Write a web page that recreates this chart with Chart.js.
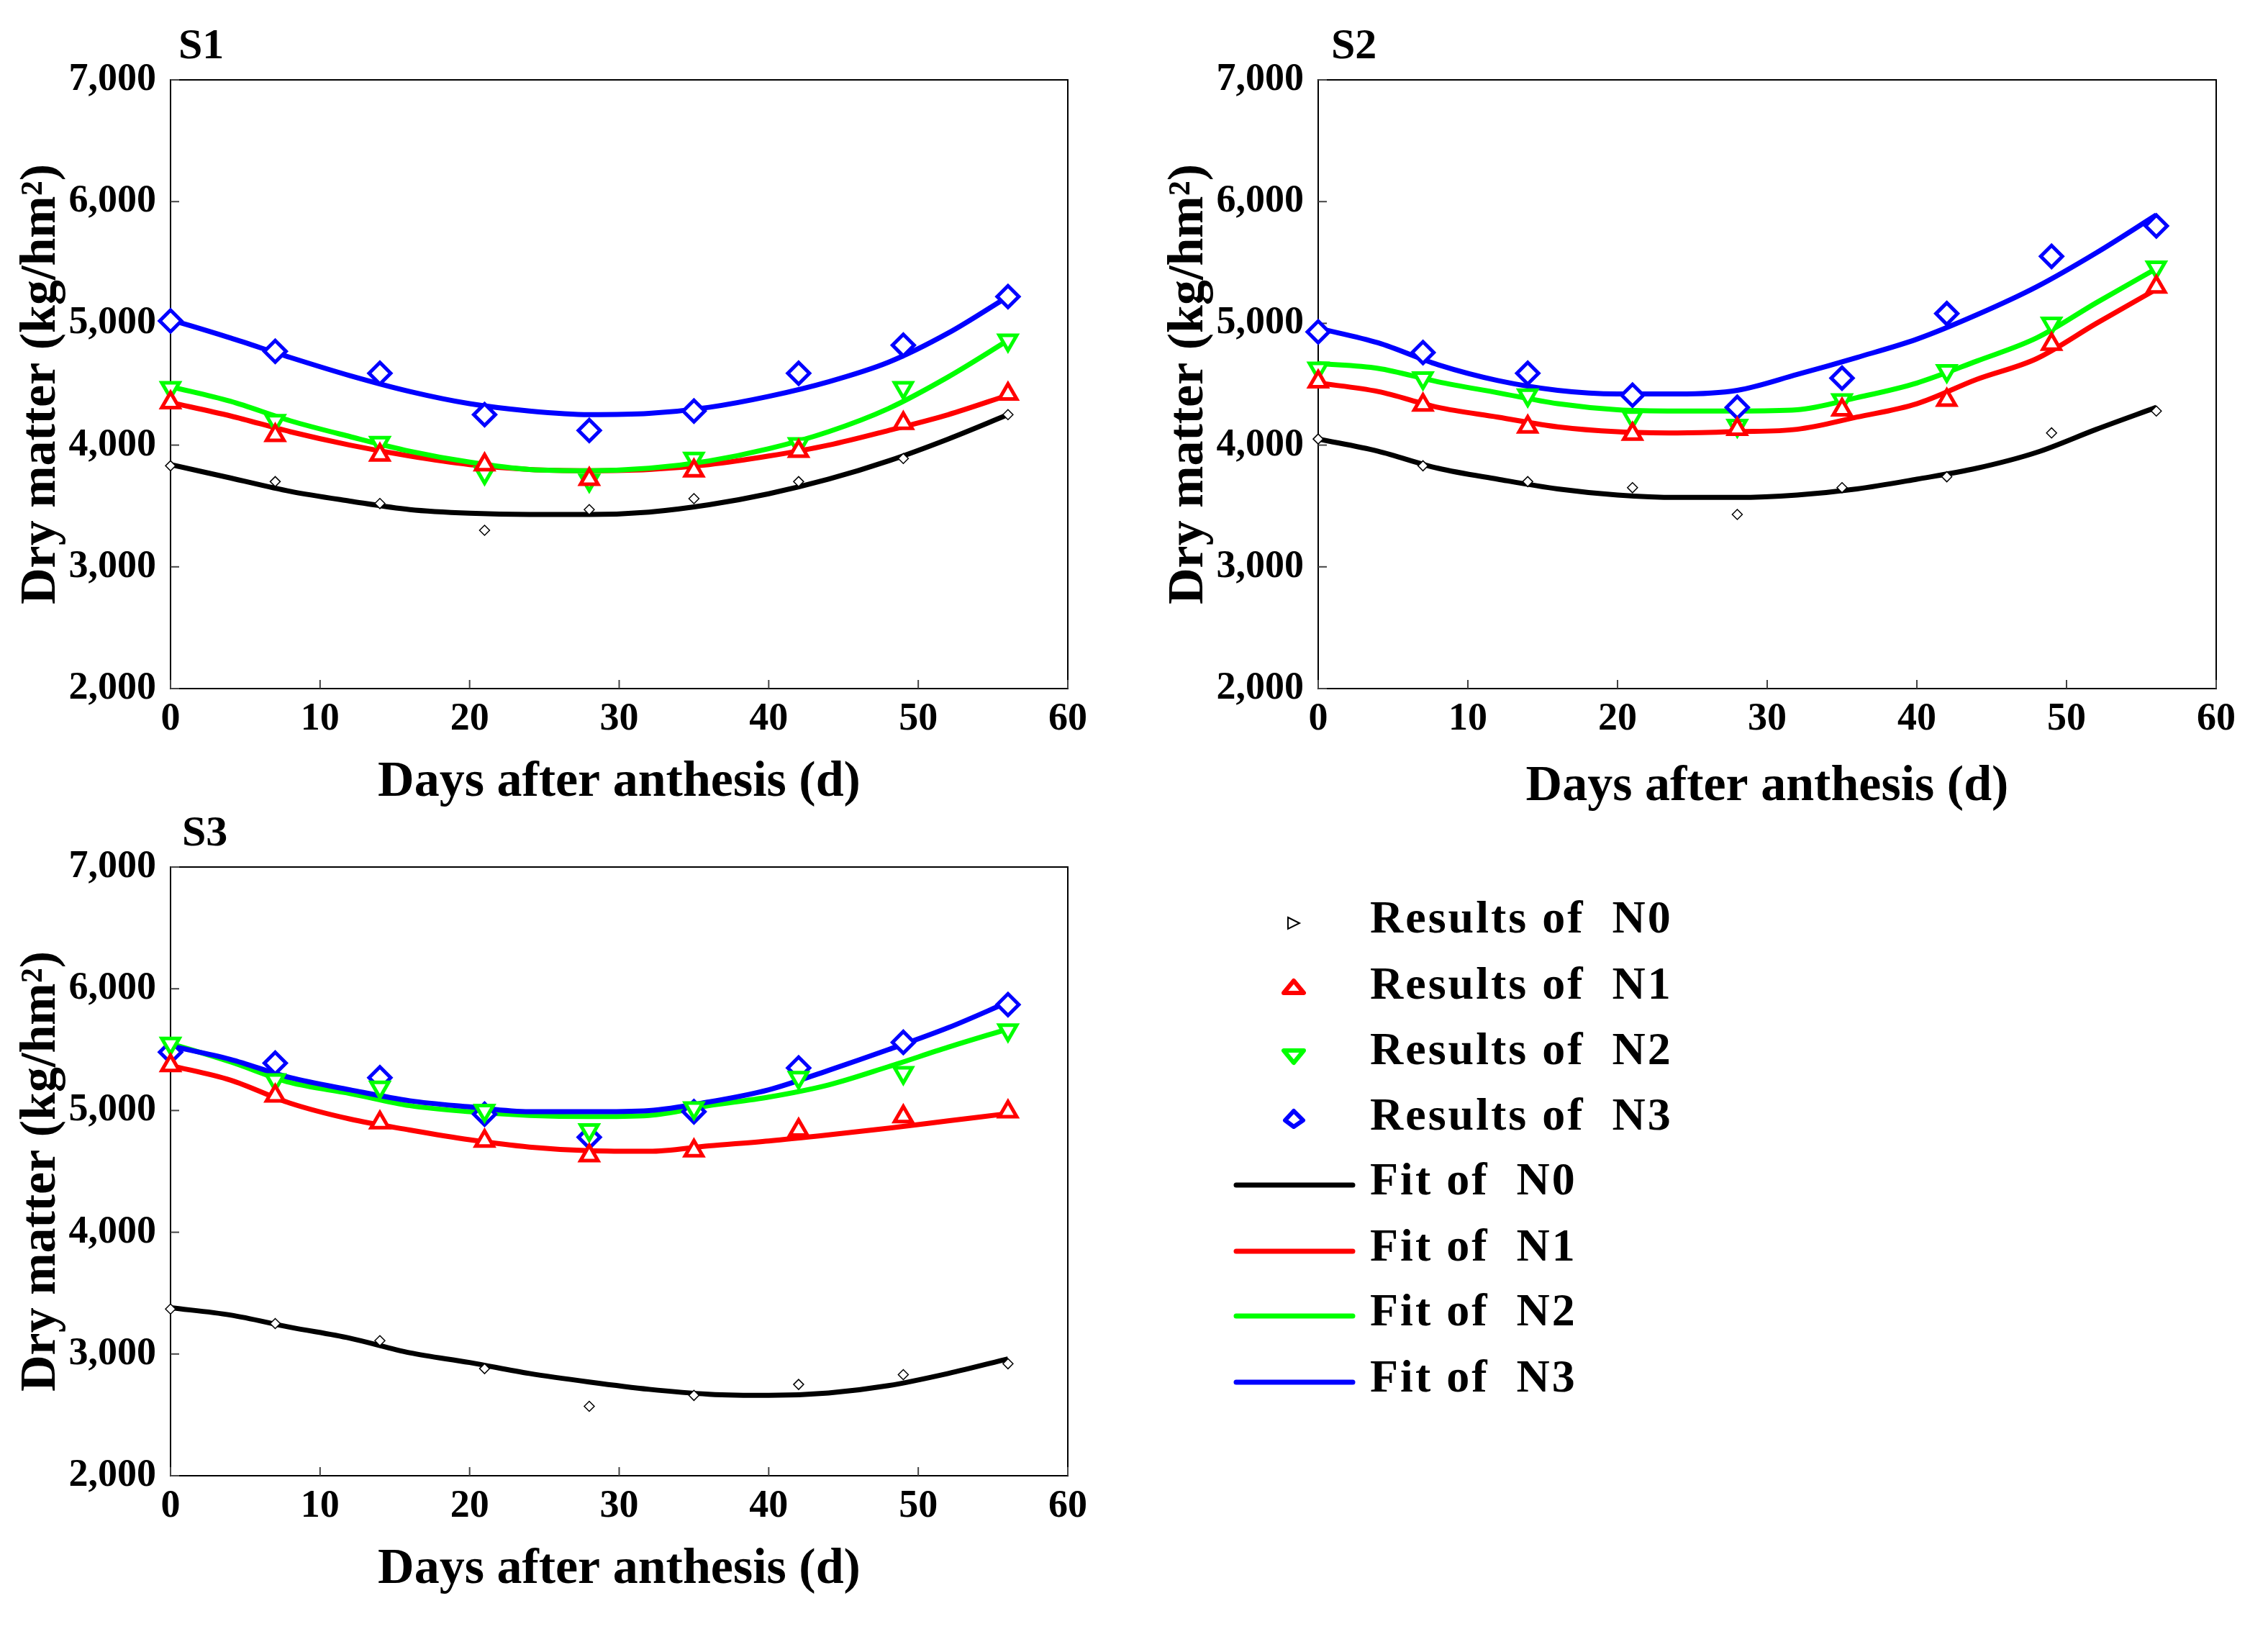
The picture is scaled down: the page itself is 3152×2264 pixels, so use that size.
<!DOCTYPE html>
<html>
<head>
<meta charset="utf-8">
<script src="https://cdn.jsdelivr.net/npm/chart.js@4.4.1/dist/chart.umd.min.js"></script>
<style>
  body { margin: 0; background: #fff; width: 3152px; height: 2264px; position: relative; overflow: hidden; }
  canvas { position: absolute; }
  .legend-row { position: absolute; left: 1700px; height: 90px; width: 700px; }
  .legend-row svg { position: absolute; left: 0; top: 0; }
  .legend-row span {
    position: absolute; left: 204px; top: 0; line-height: 90px;
    font: bold 64px "Liberation Serif", "Times New Roman", serif;
    letter-spacing: 3px; white-space: pre; color: #000;
  }
</style>
</head>
<body>
<canvas id="s1" width="1560" height="1130" style="left:0;top:0"></canvas>
<canvas id="s2" width="1545" height="1130" style="left:1595px;top:0"></canvas>
<canvas id="s3" width="1560" height="1130" style="left:0;top:1094px"></canvas>
<div id="legend"></div>

<script>
// measured days and days where the fitted curves were read
const days = [0, 7, 14, 21, 28, 35, 42, 49, 56];
const fitDays = [0, 4, 8, 12, 16, 20, 24, 28, 32, 36, 40, 44, 48, 52, 56];
const xTicks = [0, 10, 20, 30, 40, 50, 60];
const yTicks = [2000, 3000, 4000, 5000, 6000, 7000];

// S1
const s1ResN0 = [3830, 3700, 3520, 3300, 3470, 3560, 3700, 3890, 4250];
const s1ResN1 = [4350, 4080, 3920, 3840, 3720, 3790, 3950, 4180, 4420];
const s1ResN2 = [4470, 4200, 4020, 3770, 3710, 3890, 4010, 4470, 4860];
const s1ResN3 = [5020, 4770, 4590, 4250, 4120, 4280, 4590, 4820, 5220];
const s1FitN0 = [3840, 3730, 3620, 3540, 3470, 3440, 3430, 3430, 3450, 3510, 3600, 3720, 3870, 4050, 4250];
const s1FitN1 = [4350, 4240, 4110, 4000, 3910, 3840, 3800, 3790, 3800, 3840, 3910, 4000, 4120, 4250, 4410];
const s1FitN2 = [4480, 4360, 4200, 4070, 3950, 3860, 3800, 3790, 3810, 3870, 3970, 4110, 4300, 4560, 4860];
const s1FitN3 = [5030, 4880, 4720, 4570, 4440, 4340, 4280, 4250, 4260, 4310, 4400, 4520, 4680, 4920, 5220];

// S2
const s2ResN0 = [4050, 3830, 3700, 3650, 3430, 3650, 3740, 4100, 4280];
const s2ResN1 = [4520, 4330, 4150, 4090, 4130, 4290, 4370, 4830, 5300];
const s2ResN2 = [4630, 4550, 4410, 4230, 4160, 4370, 4610, 5000, 5460];
const s2ResN3 = [4930, 4760, 4590, 4410, 4310, 4550, 5080, 5550, 5800];
const s2FitN0 = [4050, 3950, 3810, 3720, 3640, 3590, 3570, 3570, 3590, 3640, 3720, 3810, 3940, 4130, 4310];
const s2FitN1 = [4510, 4440, 4310, 4230, 4150, 4110, 4100, 4110, 4130, 4230, 4340, 4540, 4710, 5000, 5280];
const s2FitN2 = [4670, 4630, 4520, 4430, 4340, 4290, 4280, 4280, 4290, 4390, 4510, 4690, 4880, 5170, 5450];
const s2FitN3 = [4960, 4840, 4660, 4530, 4450, 4420, 4420, 4450, 4580, 4720, 4870, 5070, 5300, 5580, 5890];

// S3
const s3ResN0 = [3370, 3250, 3110, 2880, 2570, 2660, 2750, 2830, 2920];
const s3ResN1 = [5370, 5120, 4900, 4750, 4630, 4670, 4840, 4950, 4990];
const s3ResN2 = [5550, 5250, 5190, 5000, 4840, 5020, 5270, 5310, 5660];
const s3ResN3 = [5480, 5390, 5270, 4970, 4780, 4990, 5350, 5560, 5870];
const s3FitN0 = [3380, 3320, 3220, 3130, 3010, 2930, 2840, 2770, 2710, 2670, 2660, 2680, 2740, 2840, 2960];
const s3FitN1 = [5370, 5250, 5060, 4930, 4840, 4760, 4700, 4670, 4665, 4710, 4750, 4800, 4855, 4915, 4975];
const s3FitN2 = [5550, 5400, 5230, 5140, 5040, 4990, 4960, 4950, 4960, 5040, 5110, 5210, 5360, 5520, 5670];
const s3FitN3 = [5530, 5420, 5270, 5170, 5080, 5030, 4990, 4990, 5000, 5070, 5170, 5330, 5500, 5680, 5890];

const BLACK = '#000000', RED = '#ff0000', GREEN = '#00ff00', BLUE = '#0000ff';
const FONT = '"Liberation Serif", "Times New Roman", serif';

function pts(xs, ys) {
    return xs.map((x, i) => ({ x: x, y: ys[i] }));
}

// frame, inward tick marks and the panel name
const framePlugin = {
    id: 'frame',
    beforeDatasetsDraw(chart, args, opts) {
        const { ctx, chartArea: a, scales } = chart;
        ctx.save();
        ctx.strokeStyle = '#000';
        ctx.lineWidth = 2;
        ctx.strokeRect(a.left, a.top, a.right - a.left, a.bottom - a.top);
        ctx.strokeStyle = '#444';
        ctx.lineWidth = 2;
        scales.x.ticks.forEach(t => {
            const px = scales.x.getPixelForValue(t.value);
            ctx.beginPath();
            ctx.moveTo(px, a.bottom);
            ctx.lineTo(px, a.bottom - 12);
            ctx.stroke();
        });
        scales.y.ticks.forEach(t => {
            const py = scales.y.getPixelForValue(t.value);
            ctx.beginPath();
            ctx.moveTo(a.left, py);
            ctx.lineTo(a.left + 12, py);
            ctx.stroke();
        });
        ctx.fillStyle = '#000';
        ctx.font = 'bold 60px ' + FONT;
        ctx.textBaseline = 'alphabetic';
        ctx.fillText(opts.label, a.left + opts.dx, a.top - 30);
        ctx.restore();
    }
};

function makePanel(id, label, dx, res, fit) {
    const markers = [
        { label: 'Results of N0', data: pts(days, res[0]), pointStyle: 'rectRot', pointRadius: 7, borderWidth: 1.5, borderColor: BLACK },
        { label: 'Results of N1', data: pts(days, res[1]), pointStyle: 'triangle', pointRadius: 14, borderWidth: 5, borderColor: RED },
        { label: 'Results of N2', data: pts(days, res[2]), pointStyle: 'triangle', rotation: 180, pointRadius: 14, borderWidth: 5, borderColor: GREEN },
        { label: 'Results of N3', data: pts(days, res[3]), pointStyle: 'rectRot', pointRadius: 15, borderWidth: 5, borderColor: BLUE }
    ].map(d => Object.assign(d, {
        showLine: false, backgroundColor: '#ffffff', pointBorderColor: d.borderColor,
        pointBorderWidth: d.borderWidth, clip: false, order: 0
    }));

    const lineColors = [BLACK, RED, GREEN, BLUE];
    const lines = fit.map((f, i) => ({
        label: 'Fit of N' + i,
        data: pts(fitDays, f),
        showLine: true,
        borderColor: lineColors[i],
        borderWidth: 7,
        pointRadius: 0,
        cubicInterpolationMode: 'monotone',
        fill: false,
        order: 4 - i
    }));

    new Chart(document.getElementById(id), {
        type: 'scatter',
        data: { datasets: lines.concat(markers) },
        options: {
            responsive: false,
            devicePixelRatio: 1,
            animation: false,
            layout: { padding: { top: 111, right: id === 's2' ? 60 : 76, left: 0, bottom: 0 } },
            plugins: {
                legend: { display: false },
                tooltip: { enabled: false },
                frame: { label: label, dx: dx }
            },
            scales: {
                x: {
                    type: 'linear', min: 0, max: 60,
                    afterBuildTicks: s => { s.ticks = xTicks.map(v => ({ value: v })); },
                    afterFit: s => { s.height = 173; },
                    grid: { display: false, drawTicks: false },
                    border: { display: false },
                    ticks: { padding: 16, color: '#000', font: { family: FONT, weight: 'bold', size: 54, lineHeight: 1 } },
                    title: {
                        display: true, text: 'Days after anthesis (d)', color: '#000',
                        font: { family: FONT, weight: 'bold', size: 70, lineHeight: 1.2 },
                        padding: { top: 0, bottom: id === 's2' ? -6 : 0 }
                    }
                },
                y: {
                    type: 'linear', min: 2000, max: 7000,
                    afterBuildTicks: s => { s.ticks = yTicks.map(v => ({ value: v })); },
                    afterFit: s => { s.width = 237; },
                    grid: { display: false, drawTicks: false },
                    border: { display: false },
                    ticks: {
                        padding: 20, color: '#000',
                        font: { family: FONT, weight: 'bold', size: 54, lineHeight: 1 },
                        callback: v => v.toLocaleString('en-US')
                    },
                    title: {
                        display: true, text: 'Dry matter (kg/hm²)', color: '#000',
                        font: { family: FONT, weight: 'bold', size: 70, lineHeight: 1.2 },
                        padding: { top: 16, bottom: 0 }
                    }
                }
            }
        },
        plugins: [framePlugin]
    });
}

makePanel('s1', 'S1', 11, [s1ResN0, s1ResN1, s1ResN2, s1ResN3], [s1FitN0, s1FitN1, s1FitN2, s1FitN3]);
makePanel('s2', 'S2', 18, [s2ResN0, s2ResN1, s2ResN2, s2ResN3], [s2FitN0, s2FitN1, s2FitN2, s2FitN3]);
makePanel('s3', 'S3', 16, [s3ResN0, s3ResN1, s3ResN2, s3ResN3], [s3FitN0, s3FitN1, s3FitN2, s3FitN3]);

// legend
const legendNames = ['Results of  N0', 'Results of  N1', 'Results of  N2', 'Results of  N3',
                     'Fit of  N0', 'Fit of  N1', 'Fit of  N2', 'Fit of  N3'];
const legendRowsY = [1283, 1375, 1466, 1557, 1647, 1739, 1829, 1921];
const legendIcons = [
    '<polygon points="90,37 106,45 90,53" fill="none" stroke="#000" stroke-width="2"/>',
    '<polygon points="98,33 112,50 84,50" fill="none" stroke="' + RED + '" stroke-width="6" stroke-linejoin="round"/>',
    '<polygon points="84,39 112,39 98,56" fill="none" stroke="' + GREEN + '" stroke-width="6" stroke-linejoin="round"/>',
    '<polygon points="98,32 111,45 98,54 86,45" fill="none" stroke="' + BLUE + '" stroke-width="6" stroke-linejoin="round"/>',
    '<line x1="18" y1="45" x2="180" y2="45" stroke="' + BLACK + '" stroke-width="7" stroke-linecap="round"/>',
    '<line x1="18" y1="45" x2="180" y2="45" stroke="' + RED + '" stroke-width="7" stroke-linecap="round"/>',
    '<line x1="18" y1="45" x2="180" y2="45" stroke="' + GREEN + '" stroke-width="7" stroke-linecap="round"/>',
    '<line x1="18" y1="45" x2="180" y2="45" stroke="' + BLUE + '" stroke-width="7" stroke-linecap="round"/>'
];
const legend = document.getElementById('legend');
legendNames.forEach((name, i) => {
    const row = document.createElement('div');
    row.className = 'legend-row';
    row.style.top = (legendRowsY[i] - 45) + 'px';
    row.innerHTML = '<svg width="200" height="90">' + legendIcons[i] + '</svg><span>' + name + '</span>';
    legend.appendChild(row);
});
</script>
</body>
</html>
